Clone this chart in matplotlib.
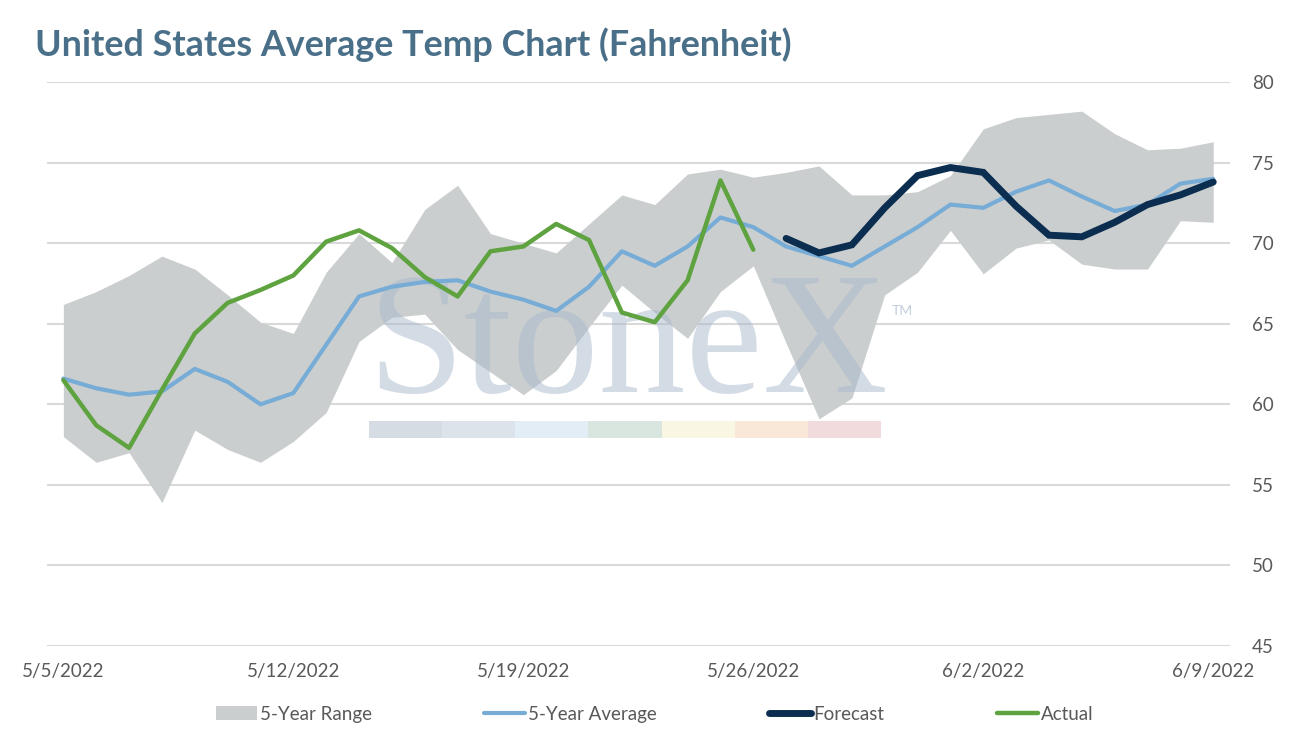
import matplotlib
matplotlib.use("Agg")
import matplotlib.pyplot as plt
from matplotlib.patches import Rectangle
import numpy as np

# ---------------- data ----------------
dates = ["5/5/2022", "5/6/2022", "5/7/2022", "5/8/2022", "5/9/2022", "5/10/2022", "5/11/2022",
         "5/12/2022", "5/13/2022", "5/14/2022", "5/15/2022", "5/16/2022", "5/17/2022", "5/18/2022",
         "5/19/2022", "5/20/2022", "5/21/2022", "5/22/2022", "5/23/2022", "5/24/2022", "5/25/2022",
         "5/26/2022", "5/27/2022", "5/28/2022", "5/29/2022", "5/30/2022", "5/31/2022", "6/1/2022",
         "6/2/2022", "6/3/2022", "6/4/2022", "6/5/2022", "6/6/2022", "6/7/2022", "6/8/2022", "6/9/2022"]

range_high = [66.2, 67.0, 68.0, 69.2, 68.4, 66.8, 65.1, 64.4, 68.2, 70.6, 68.8, 72.1,
              73.6, 70.6, 70.0, 69.4, 71.2, 73.0, 72.4, 74.3, 74.6, 74.1, 74.4, 74.8,
              73.0, 73.0, 73.2, 74.2, 77.1, 77.8, 78.0, 78.2, 76.8, 75.8, 75.9, 76.3]
range_low = [58.0, 56.4, 57.0, 53.9, 58.4, 57.2, 56.4, 57.7, 59.5, 63.9, 65.4, 65.6,
             63.4, 62.0, 60.6, 62.1, 64.8, 67.4, 65.7, 64.1, 67.0, 68.6, 63.8, 59.1,
             60.4, 66.8, 68.2, 70.8, 68.1, 69.7, 70.2, 68.7, 68.4, 68.4, 71.4, 71.3]
avg5 = [61.6, 61.0, 60.6, 60.8, 62.2, 61.4, 60.0, 60.7, 63.7, 66.7, 67.3, 67.6,
        67.7, 67.0, 66.5, 65.8, 67.3, 69.5, 68.6, 69.8, 71.6, 71.0, 69.8, 69.2,
        68.6, 69.8, 71.0, 72.4, 72.2, 73.2, 73.9, 72.9, 72.0, 72.4, 73.7, 74.0]
actual = [61.5, 58.7, 57.3, 60.9, 64.4, 66.3, 67.1, 68.0, 70.1, 70.8, 69.7, 67.9,
          66.7, 69.5, 69.8, 71.2, 70.2, 65.7, 65.1, 67.7, 73.9, 69.6]
forecast = [70.3, 69.4, 69.9, 72.2, 74.2, 74.7, 74.4, 72.3, 70.5, 70.4, 71.3, 72.4, 73.0, 73.8]
forecast_start = 22

tick_labels = ["5/5/2022", "5/12/2022", "5/19/2022", "5/26/2022", "6/2/2022", "6/9/2022"]
y_ticks = [45, 50, 55, 60, 65, 70, 75, 80]

title = "United States Average Temp Chart (Fahrenheit)"

# ---------------- style ----------------
FONT = "Lato"
plt.rcParams["font.family"] = [FONT, "DejaVu Sans"]
TEXT_GRAY = "#595959"
C_RANGE = "#cbcecf"
C_AVG = "#76acd6"
C_FC = "#0b2e50"
C_ACT = "#5ea33f"

fig = plt.figure(figsize=(13.04, 7.40), dpi=100)
ax = fig.add_axes([0.036, 0.127, 0.907, 0.762])

x_all = np.arange(len(dates))
ax.fill_between(x_all, range_low, range_high, color=C_RANGE, lw=0, zorder=1,
                label="5-Year Range")
ax.plot(x_all, avg5, color=C_AVG, lw=3.0, zorder=3, label="5-Year Average",
        solid_capstyle="round")
x_fc = np.arange(forecast_start, forecast_start + len(forecast))
ax.plot(x_fc, forecast, color=C_FC, lw=5.0, zorder=4, label="Forecast",
        solid_capstyle="round", solid_joinstyle="miter")
x_act = np.arange(len(actual))
ax.plot(x_act, actual, color=C_ACT, lw=3.2, zorder=4, label="Actual",
        solid_capstyle="round")

ax.set_xlim(-0.5, len(dates) - 0.5)
ax.set_ylim(45, 80)
ax.set_yticks(y_ticks)
ax.yaxis.tick_right()
ax.set_xticks([dates.index(t) for t in tick_labels])
ax.set_xticklabels(tick_labels)
ax.tick_params(axis="both", length=0, labelsize=13.5, labelcolor=TEXT_GRAY)
ax.tick_params(axis="x", pad=12)
ax.tick_params(axis="y", pad=16)
for s in ax.spines.values():
    s.set_visible(False)
ax.grid(axis="y", color="#d9d9d9", lw=1.5, zorder=0)
ax.set_axisbelow(True)

# watermark (over the range band, under the lines)
ax.text(0.282, 0.470, "StoneX", transform=fig.transFigure, family="Liberation Serif",
        fontsize=125, color="#a9b9cc", alpha=0.5, zorder=2, ha="left", va="baseline")
ax.text(0.684, 0.575, "TM", transform=fig.transFigure, fontsize=10, color="#b4c2d2",
        alpha=0.8, zorder=2)
bar_cols = ["#cfd6df", "#d8dfe8", "#dfeaf4", "#d3e2da", "#f8f6df", "#f8e5d1", "#f0d5d6"]
x0, w, y0, h = 369 / 1304, (881 - 369) / 1304 / 7, 1 - 438 / 740, 17 / 740
for i, c in enumerate(bar_cols):
    ax.add_patch(Rectangle((x0 + i * w, y0), w, h, transform=fig.transFigure,
                           color=c, alpha=0.85, zorder=2, lw=0, clip_on=False))

fig.text(0.027, 0.94, title, fontsize=25.8, fontweight="bold", color="#4a7089",
         ha="left", va="center")

leg = fig.legend(loc="center", bbox_to_anchor=(0.502, 0.035), ncol=4, frameon=False,
                 fontsize=13.5, handlelength=2.2, handletextpad=0.15, columnspacing=6.0,
                 labelcolor=TEXT_GRAY, handleheight=0.8)

fig.savefig("out.png", dpi=100)
